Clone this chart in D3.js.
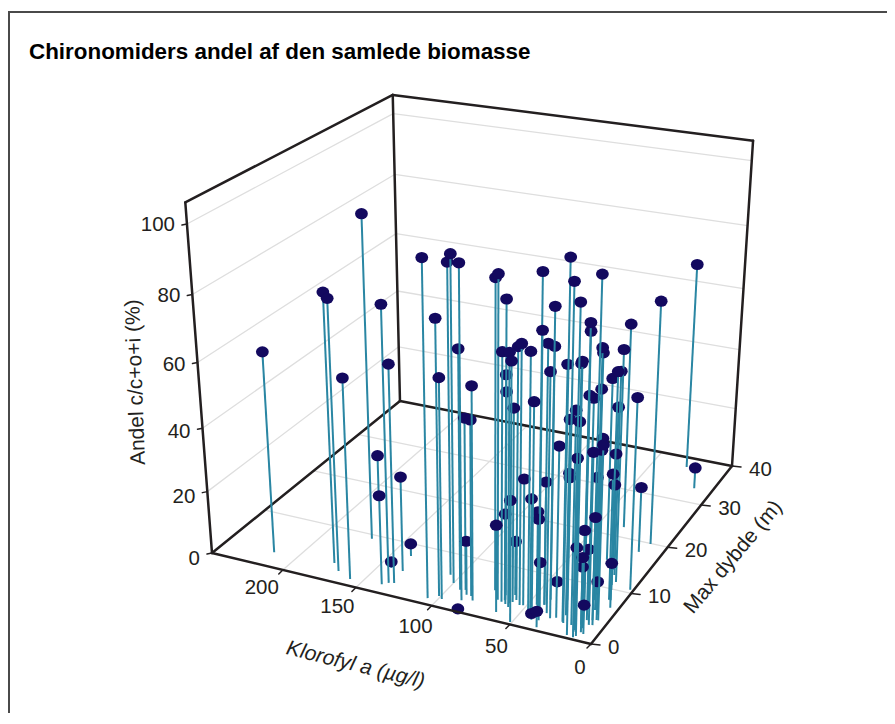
<!DOCTYPE html>
<html><head><meta charset="utf-8">
<script src="https://d3js.org/d3.v7.min.js"></script>
<style>html,body{margin:0;background:#fff}svg{display:block}text{font-family:"Liberation Sans",Arial,sans-serif;fill:#231f20}</style>
</head><body><svg id="c" width="895" height="724"></svg>
<script>
const titleText="Chironomiders andel af den samlede biomasse";
const xLabel="Klorofyl a (µg/l)", yLabel="Max dybde (m)", zLabel="Andel c/c+o+i (%)";
const xTicks=[0,50,100,150,200], yTicks=[0,10,20,30,40], zTicks=[0,20,40,60,80,100];
const klorofyl=[216,176,169,170,158,135,132,191,138,134,138,142,106,101,98,100,106,87,93,83,81,90,84,87,74,68,62,
65,59,51,64,66,59,63,64,60,61,58,54,52,45,35,41,45,43,45,41,41,37,41,41,36,40,32,
41,29,42,24,25,14,18,23,16,12,11,14,27,31,14,11,16,12,10,13,8,7,14,17,7,17,17,
17,9,12,18,16,19,6,9,9,34,13,17,8,28,20,14,9,12,5,14,2,11,27,12];
const dybde=[2.7,3.3,2.1,9.2,1.2,2.1,2.3,17.0,1.6,4.7,7.7,4.8,1.1,1.9,1.5,4.7,6.0,2.1,3.8,0.0,2.5,4.0,3.2,3.2,5.1,3.6,3.2,
3.4,2.8,0.4,3.9,4.7,3.8,1.5,3.8,3.5,5.1,4.3,3.6,3.7,2.3,0.6,1.6,2.8,2.4,4.3,3.0,3.5,1.8,3.2,4.6,3.3,5.7,2.6,
4.6,2.9,8.0,2.5,3.7,1.6,2.3,2.3,0.5,0.4,0.7,1.7,4.6,6.3,1.3,2.2,2.4,3.7,1.5,2.7,1.3,4.1,3.6,4.9,3.1,6.0,5.0,
7.4,3.9,5.7,8.4,7.4,9.3,4.1,5.0,3.0,22.1,11.4,12.6,8.0,15.1,13.5,10.7,8.0,9.8,6.7,17.9,10.6,19.9,37.7,33.3];
const andel=[63,83,83,100,62,84,67,15,28,30,4,2,100,83,67,98,94,99,73,1,65,53,54,17,93,96,90,
75,76,77,68,62,59,27,27,32,17,76,78,39,78,5,2,35,64,29,29,15,85,99,78,72,76,91,
38,52,2,76,59,62,64,105,101,96,80,78,42,38,52,30,24,22,23,18,9,12,87,83,33,63,65,
38,100,78,73,64,47,53,50,52,65,71,63,69,57,51,41,39,33,14,21,59,76,68,7];

const U=d3.scaleLinear().domain([0,250]).range([0,1]);
const V=d3.scaleLinear().domain([0,40]).range([0,1]);
const W=d3.scaleLinear().domain([0,100]).range([0,1]);
const a=.089,b=.1919,c=-.09,O=[591,644],A=[212,553],C=[732,466],P3=[-44.1,-378.4];
const P1=[A[0]*(1+a)-O[0],A[1]*(1+a)-O[1]],P2=[C[0]*(1+b)-O[0],C[1]*(1+b)-O[1]];
const denom=(u,v,w)=>1+a*u+b*v+c*w;
const proj=(x,y,z)=>{const u=U(x),v=V(y),w=W(z),d=denom(u,v,w);
  return [0,1].map(i=>(O[i]+u*P1[i]+v*P2[i]+w*P3[i])/d);};
const X=250,Y=40,TOP=106;
const svg=d3.select("#c");
const seg=(g,p,q,cls)=>g.append("line").attr("x1",p[0]).attr("y1",p[1]).attr("x2",q[0]).attr("y2",q[1]).attr("stroke",cls.s).attr("stroke-width",cls.w).attr("stroke-linecap","round");
const gridS={s:"#dedede",w:1.3}, axS={s:"#231f20",w:2.5}, tickS={s:"#231f20",w:1.5};

// frame
svg.append("path").attr("d","M9,713V12H887").attr("fill","none").attr("stroke","#4a4a4a").attr("stroke-width",2);
svg.append("text").attr("x",29).attr("y",59).attr("font-weight","bold").attr("font-size",22.4).attr("fill","#000").style("fill","#000").text(titleText);

// grid
const g=svg.append("g");
zTicks.slice(1).forEach(z=>{seg(g,proj(X,0,z),proj(X,Y,z),gridS);seg(g,proj(X,Y,z),proj(0,Y,z),gridS);});
xTicks.slice(1).forEach(x=>seg(g,proj(x,0,0),proj(x,Y,0),gridS));
yTicks.slice(1).forEach(y=>seg(g,proj(0,y,0),proj(X,y,0),gridS));
// back edges
[[[X,0,0],[X,0,TOP]],[[X,Y,0],[X,Y,TOP]],[[0,Y,0],[0,Y,TOP]],[[X,0,TOP],[X,Y,TOP]],[[X,Y,TOP],[0,Y,TOP]],[[X,0,0],[X,Y,0]],[[X,Y,0],[0,Y,0]]]
 .forEach(([p,q])=>seg(g,proj(...p),proj(...q),axS));

// marks, far to near
const pts=d3.range(klorofyl.length).sort((i,j)=>denom(U(klorofyl[j]),V(dybde[j]),0)-denom(U(klorofyl[i]),V(dybde[i]),0));
const m=svg.append("g");
pts.forEach(i=>{
  const f=proj(klorofyl[i],dybde[i],0),h=proj(klorofyl[i],dybde[i],andel[i]);
  seg(m,f,h,{s:"#2a86a3",w:2}).attr("stroke-linecap","butt");
  m.append("ellipse").attr("cx",h[0]).attr("cy",h[1]).attr("rx",6.4).attr("ry",5.6).attr("fill","#13095f");
});

// front edges, ticks, labels
const f=svg.append("g");
seg(f,proj(0,0,0),proj(X,0,0),axS);seg(f,proj(0,0,0),proj(0,Y,0),axS);
const lab=(p,t,anc)=>f.append("text").attr("x",p[0]).attr("y",p[1]).attr("font-size",20.5).attr("text-anchor",anc||"middle").text(t);
xTicks.forEach(x=>{const p=proj(x,0,0);seg(f,p,[p[0]-4,p[1]+4],tickS);lab([p[0]-11-x*.05,p[1]+30-x*.03],x);});
yTicks.forEach(y=>{const p=proj(0,y,0);seg(f,p,[p[0]+9,p[1]+1],tickS);lab([p[0]+17,p[1]+10],y,"start");});
zTicks.forEach(z=>{const p=proj(X,0,z);seg(f,p,[p[0]-5,p[1]+1],tickS);lab([p[0]-12,p[1]+12-z*.05],z,"end");});
const rot=(x,y,ang,t,it)=>f.append("text").attr("transform",`translate(${x},${y}) rotate(${ang})`).attr("text-anchor","middle").attr("font-size",21).attr("font-style",it?"italic":null).text(t);
rot(142,382,-92,zLabel);
rot(354,671,14,xLabel,true);
rot(738,561,-50,yLabel);
</script></body></html>
